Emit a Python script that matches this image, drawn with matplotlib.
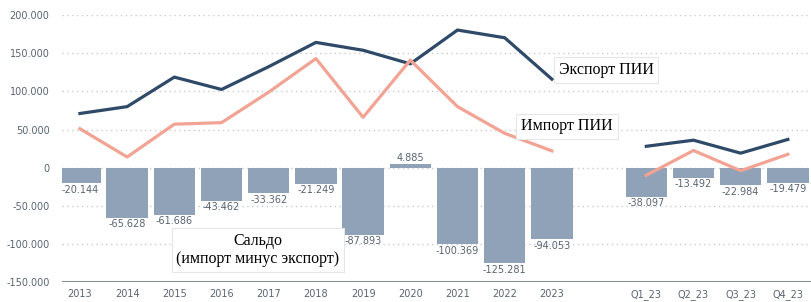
import numpy as np
import matplotlib.pyplot as plt

categories = ["2013", "2014", "2015", "2016", "2017", "2018", "2019", "2020",
              "2021", "2022", "2023", "", "Q1_23", "Q2_23", "Q3_23", "Q4_23"]
saldo = [-20.144, -65.628, -61.686, -43.462, -33.362, -21.249, -87.893, 4.885,
         -100.369, -125.281, -94.053, np.nan, -38.097, -13.492, -22.984, -19.479]
export = [71, 80, 118.7, 102.5, 132.4, 164.2, 153.9, 136.1,
          180.4, 170.3, 116, np.nan, 28, 36, 19, 37]
imports = [51, 14, 57, 59, 99, 143, 66, 141,
           80, 45, 22, np.nan, -10, 22.5, -4, 17.5]

bar_col = "#8fa2b7"
exp_col = "#2f4a68"
imp_col = "#f2a393"
tick_col = "#5a6472"

fig = plt.figure(figsize=(8.11, 3.02), dpi=100)
ax = fig.add_axes([62 / 811, 0.066, 1 - 62 / 811, 0.884])

x = np.arange(len(categories))
ax.bar(x, saldo, width=0.88, color=bar_col, zorder=2)
ax.plot(x, export, color=exp_col, lw=2.3, zorder=3)
ax.plot(x, imports, color=imp_col, lw=2.3, zorder=3)

# подписи значений сальдо
for xi, v in zip(x, saldo):
    if np.isnan(v):
        continue
    s = f"{v:.3f}"
    if v < 0:
        ax.text(xi, v - 2, s, ha="center", va="top", fontsize=7, color=tick_col, zorder=4)
    else:
        ax.text(xi, v + 1.5, s, ha="center", va="bottom", fontsize=7, color=tick_col, zorder=4)

ax.set_xlim(-0.38, 15.49)
ax.set_ylim(-150, 200)
yt = [-150, -100, -50, 0, 50, 100, 150, 200]
ax.set_yticks(yt)
ax.set_yticklabels([f"{v}.000" if v != 0 else "0" for v in yt], fontsize=7, color=tick_col)
ax.set_xticks(x)
ax.set_xticklabels(categories, fontsize=7, color=tick_col)
ax.tick_params(length=0)
ax.tick_params(axis="x", pad=5)
ax.tick_params(axis="y", pad=9)

for v in yt[1:]:
    ax.axhline(v, color="#c8ccd2", lw=1, ls=(0, (1, 2.5)), zorder=1)
ax.axhline(-150, color="#8a8f96", lw=1.5, zorder=1)
for sp in ax.spines.values():
    sp.set_visible(False)

box = dict(boxstyle="square,pad=0.3", fc="white", ec="#e6e6e6", lw=0.8)
ax.text(11.15, 128, "Экспорт ПИИ", fontsize=11.5, family="Liberation Serif",
        ha="center", va="center", bbox=box, zorder=5)
ax.text(10.32, 54, "Импорт ПИИ", fontsize=11.5, family="Liberation Serif",
        ha="center", va="center", bbox=box, zorder=5)
ax.text(3.77, -108, "Сальдо\n(импорт минус экспорт)", fontsize=11.5, family="Liberation Serif",
        ha="center", va="center", linespacing=1.2, bbox=box, zorder=5)

fig.savefig("out.png", dpi=100)
